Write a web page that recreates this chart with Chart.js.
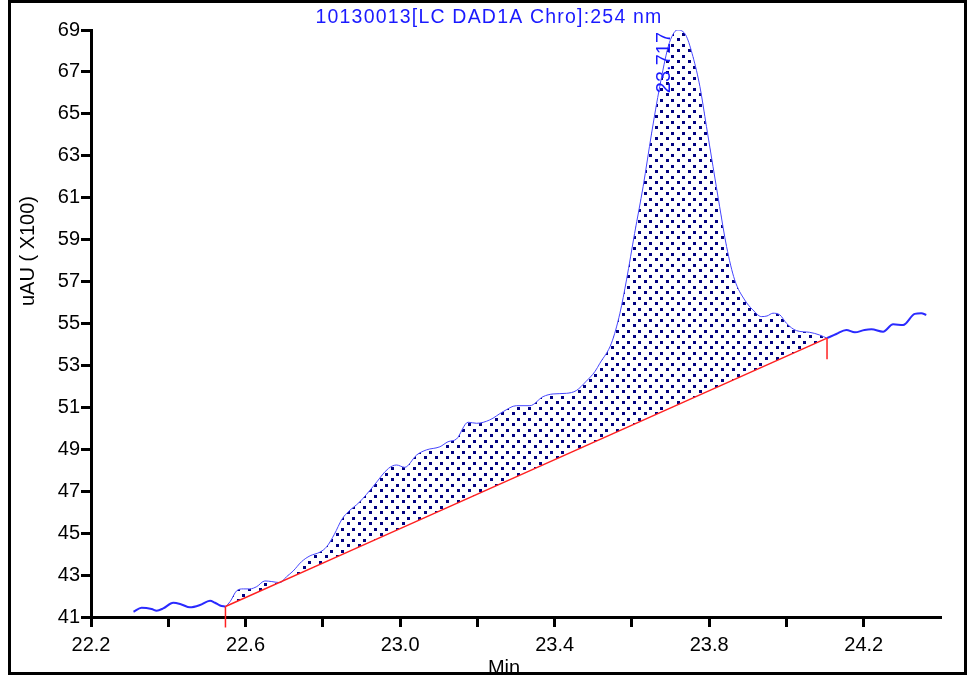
<!DOCTYPE html>
<html>
<head>
<meta charset="utf-8">
<script src="https://cdn.jsdelivr.net/npm/chart.js@4.4.0/dist/chart.umd.min.js"></script>
<style>
  html, body { margin: 0; padding: 0; background: #fff; }
</style>
</head>
<body>
<canvas id="chromChart" width="971" height="675"></canvas>
<script>
// DAD trace, 254 nm (time in min, signal in uAU x100)
const traceTime = [
  22.310, 22.331, 22.357, 22.370, 22.387, 22.413, 22.434, 22.456, 22.482, 22.508,
  22.521, 22.534, 22.548, 22.560, 22.577, 22.594, 22.611, 22.629, 22.650, 22.668,
  22.689, 22.706, 22.723, 22.745, 22.767, 22.792, 22.810, 22.830, 22.849, 22.862,
  22.896, 22.930, 22.970, 22.991, 23.012, 23.043, 23.068, 23.103, 23.124, 23.146,
  23.176, 23.198, 23.232, 23.267, 23.301, 23.336, 23.370, 23.396, 23.431, 23.456,
  23.482, 23.504, 23.517, 23.547, 23.569, 23.586, 23.607, 23.629, 23.651, 23.672,
  23.694, 23.706, 23.717, 23.729, 23.741, 23.758, 23.776, 23.793, 23.810, 23.827,
  23.845, 23.866, 23.892, 23.913, 23.935, 23.950, 23.965, 23.983, 24.000, 24.026,
  24.060, 24.086, 24.105, 24.129, 24.155, 24.177, 24.202, 24.220, 24.250, 24.276,
  24.302, 24.332, 24.349, 24.362
];
const traceSignal = [
  41.25, 41.44, 41.38, 41.30, 41.41, 41.68, 41.60, 41.46, 41.57, 41.78,
  41.68, 41.55, 41.50, 41.73, 42.25, 42.34, 42.34, 42.45, 42.72, 42.69,
  42.64, 42.92, 43.19, 43.64, 43.92, 44.09, 44.35, 44.95, 45.65, 45.95,
  46.50, 47.22, 48.09, 48.25, 48.14, 48.73, 48.97, 49.12, 49.36, 49.49,
  50.29, 50.24, 50.40, 50.80, 51.08, 51.08, 51.51, 51.64, 51.67, 51.80,
  52.25, 52.70, 53.10, 54.06, 55.49, 57.08, 59.30, 61.53, 64.08, 66.30,
  68.21, 68.78, 69.00, 68.96, 68.70, 67.73, 66.30, 64.39, 62.48, 60.58,
  58.67, 57.08, 56.12, 55.65, 55.33, 55.36, 55.49, 55.41, 55.01, 54.66,
  54.58, 54.45, 54.30, 54.50, 54.69, 54.58, 54.69, 54.72, 54.61, 54.96,
  54.93, 55.46, 55.49, 55.41
];

// integration baseline: [time, signal] at start and end
const baseStart = [22.548, 41.50];
const baseEnd = [24.105, 54.30];
const markerDrop = 1.0;

const peakTime = 23.717;
const peakLabel = '23.717';

const xTickValues = [22.2, 22.4, 22.6, 22.8, 23.0, 23.2, 23.4, 23.6, 23.8, 24.0, 24.2];
const xTickLabels = ['22.2', '22.6', '23.0', '23.4', '23.8', '24.2'];
const yTickValues = [41, 43, 45, 47, 49, 51, 53, 55, 57, 59, 61, 63, 65, 67, 69];

const chartTitle = '10130013[LC DAD1A Chro]:254 nm';
const yTitle = 'uAU ( X100)';
const xTitle = 'Min';

const FONT = '"Liberation Sans", Arial, sans-serif';

const canvas = document.getElementById('chromChart');
const ctx = canvas.getContext('2d');

function dotPattern() {
  const tile = document.createElement('canvas');
  tile.width = 11;
  tile.height = 11;
  const g = tile.getContext('2d');
  g.fillStyle = '#000080';
  g.fillRect(0, 0, 3, 3);
  g.fillRect(6, 5, 3, 3);
  return ctx.createPattern(tile, 'repeat');
}

function points(from, to) {
  const out = [];
  traceTime.forEach((t, i) => {
    if (t >= from && t <= to) out.push({ x: t, y: traceSignal[i] });
  });
  return out;
}

const lineBase = {
  pointRadius: 0,
  fill: false,
  cubicInterpolationMode: 'monotone'
};

const textPlugin = {
  id: 'chromText',
  afterDraw(chart) {
    const c = chart.ctx;
    const xs = chart.scales.x;
    const ys = chart.scales.y;
    c.save();

    c.fillStyle = '#1a1aff';
    c.font = '19.5px ' + FONT;
    c.letterSpacing = '1.2px';
    c.textAlign = 'center';
    c.textBaseline = 'middle';
    c.fillText(chartTitle, 489, 18);
    c.letterSpacing = '0px';

    // retention time next to the apex
    const pi = traceTime.indexOf(peakTime);
    c.save();
    c.translate(xs.getPixelForValue(peakTime) - 13, ys.getPixelForValue(traceSignal[pi]) + 2);
    c.rotate(-Math.PI / 2);
    c.font = '20px ' + FONT;
    c.textAlign = 'right';
    c.fillText(peakLabel, 0, 0);
    c.restore();

    c.fillStyle = '#000';
    c.font = '20px ' + FONT;
    c.save();
    c.translate(28, 251);
    c.rotate(-Math.PI / 2);
    c.textAlign = 'center';
    c.fillText(yTitle, 0, 0);
    c.restore();

    c.textAlign = 'center';
    c.fillText(xTitle, 504, 668);

    c.strokeStyle = '#000';
    c.lineWidth = 3;
    c.strokeRect(9.5, 1.5, 956, 672);
    c.restore();
  }
};

new Chart(ctx, {
  type: 'line',
  data: {
    datasets: [
      {
        data: [{ x: baseStart[0], y: baseStart[1] }, { x: baseStart[0], y: baseStart[1] - markerDrop }],
        borderColor: '#ff2020', borderWidth: 1.5, clip: false, ...lineBase
      },
      {
        data: [{ x: baseEnd[0], y: baseEnd[1] }, { x: baseEnd[0], y: baseEnd[1] - markerDrop }],
        borderColor: '#ff2020', borderWidth: 1.5, clip: false, ...lineBase
      },
      {
        data: [{ x: baseStart[0], y: baseStart[1] }, { x: baseEnd[0], y: baseEnd[1] }],
        borderColor: '#ff2020', borderWidth: 1.5, ...lineBase
      },
      {
        data: points(baseStart[0], baseEnd[0]),
        borderColor: '#4646ff', borderWidth: 1, ...lineBase,
        fill: 2, backgroundColor: dotPattern()
      },
      {
        data: points(0, baseStart[0]),
        borderColor: '#2a2aff', borderWidth: 2, ...lineBase
      },
      {
        data: points(baseEnd[0], 99),
        borderColor: '#2a2aff', borderWidth: 2, ...lineBase
      }
    ]
  },
  options: {
    responsive: false,
    animation: false,
    layout: { padding: { left: 0, top: 30, right: 30, bottom: 0 } },
    plugins: {
      legend: { display: false },
      tooltip: { enabled: false },
      title: { display: false }
    },
    scales: {
      x: {
        type: 'linear',
        min: 22.2,
        max: 24.4,
        border: { color: '#000', width: 3 },
        grid: { drawOnChartArea: false, tickLength: 10, tickWidth: 3, tickColor: '#000' },
        ticks: {
          color: '#000',
          font: { family: FONT, size: 20, lineHeight: 1.0 },
          padding: 8,
          autoSkip: false,
          maxRotation: 0,
          callback: (v) => {
            const s = v.toFixed(1);
            return xTickLabels.includes(s) ? s : '';
          }
        },
        afterBuildTicks: (scale) => { scale.ticks = xTickValues.map(v => ({ value: v })); },
        afterFit: (scale) => { scale.height = 58; }
      },
      y: {
        min: 41,
        max: 69,
        border: { color: '#000', width: 3 },
        grid: { drawOnChartArea: false, tickLength: 10, tickWidth: 3, tickColor: '#000' },
        ticks: {
          color: '#000',
          font: { family: FONT, size: 20 },
          padding: 1,
          autoSkip: false
        },
        afterBuildTicks: (scale) => { scale.ticks = yTickValues.map(v => ({ value: v })); },
        afterFit: (scale) => { scale.width = 91; }
      }
    }
  },
  plugins: [textPlugin]
});
</script>
</body>
</html>
